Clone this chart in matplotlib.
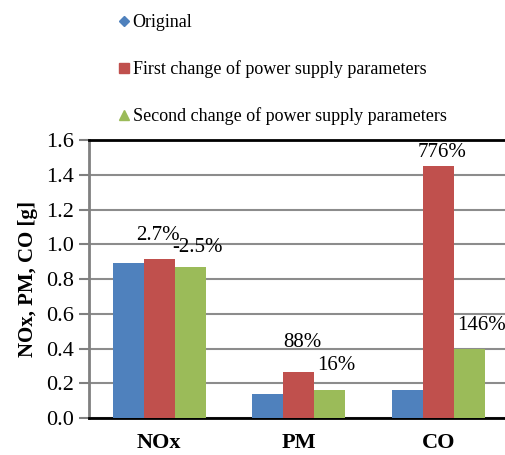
import matplotlib
matplotlib.use("Agg")
import matplotlib.pyplot as plt
import numpy as np
from matplotlib.lines import Line2D

plt.rcParams["font.family"] = ["Liberation Serif", "DejaVu Serif"]

categories = ["NOx", "PM", "CO"]
series_names = ["Original",
                "First change of power supply parameters",
                "Second change of power supply parameters"]
original = [0.89, 0.138, 0.161]
first_change = [0.917, 0.267, 1.45]
second_change = [0.869, 0.161, 0.40]
first_labels = ["2.7%", "88%", "776%"]
second_labels = ["-2.5%", "16%", "146%"]

colors = ["#4F81BD", "#C0504D", "#9BBB59"]
markers = ["D", "s", "^"]

fig = plt.figure(figsize=(5.06, 4.55), dpi=100)
ax = fig.add_axes([0.1765, 0.0813, 0.8275, 0.611])

x = np.arange(len(categories))
w = 0.222
series = [original, first_change, second_change]
for i, (vals, c) in enumerate(zip(series, colors)):
    ax.bar(x + (i - 1) * w, vals, w, color=c, zorder=3)

# data labels (manual offsets in points, as placed in the original)
off1 = [(-1, 10), (3, 14), (3, 3)]
off2 = [(5, 7), (5, 11), (9, 10)]
for j in range(len(categories)):
    ax.annotate(first_labels[j], (x[j], first_change[j]), xytext=off1[j],
                textcoords="offset points", ha="center", va="bottom",
                fontsize=15, zorder=4)
    ax.annotate(second_labels[j], (x[j] + w, second_change[j]), xytext=off2[j],
                textcoords="offset points", ha="center", va="bottom",
                fontsize=15, zorder=4, annotation_clip=False)

ax.set_xlim(-0.5, 2.5)
ax.set_ylim(0, 1.6)
ax.set_yticks(np.arange(0, 1.61, 0.2))
ax.set_yticklabels([f"{v:.1f}" for v in np.arange(0, 1.61, 0.2)], fontsize=16)
ax.set_xticks(x)
ax.set_xticklabels(categories, fontsize=16, fontweight="bold")
ax.tick_params(axis="x", length=0, pad=11)
ax.tick_params(axis="y", length=7, width=1.5, color="#808080", pad=4)
ax.yaxis.grid(True, color="#8c8c8c", lw=1.5, zorder=0)
ax.set_axisbelow(True)
ax.spines["left"].set_color("#808080")
ax.spines["left"].set_linewidth(2)
ax.spines["right"].set_visible(False)
ax.spines["top"].set_color("black")
ax.spines["top"].set_linewidth(2)
ax.spines["bottom"].set_color("black")
ax.spines["bottom"].set_linewidth(2)
ax.set_ylabel("NOx, PM, CO [g]", fontsize=15, fontweight="bold", labelpad=6)

handles = [Line2D([], [], marker=m, ls="none", color=c, markersize=ms)
           for m, c, ms in zip(markers, colors, [5, 7, 7])]
fig.legend(handles, series_names, loc="upper left", bbox_to_anchor=(0.205, 1.0),
           frameon=False, fontsize=13, handlelength=0.6, handletextpad=0.2,
           labelspacing=1.6, borderpad=0.3)

fig.savefig("out.png", dpi=100)
